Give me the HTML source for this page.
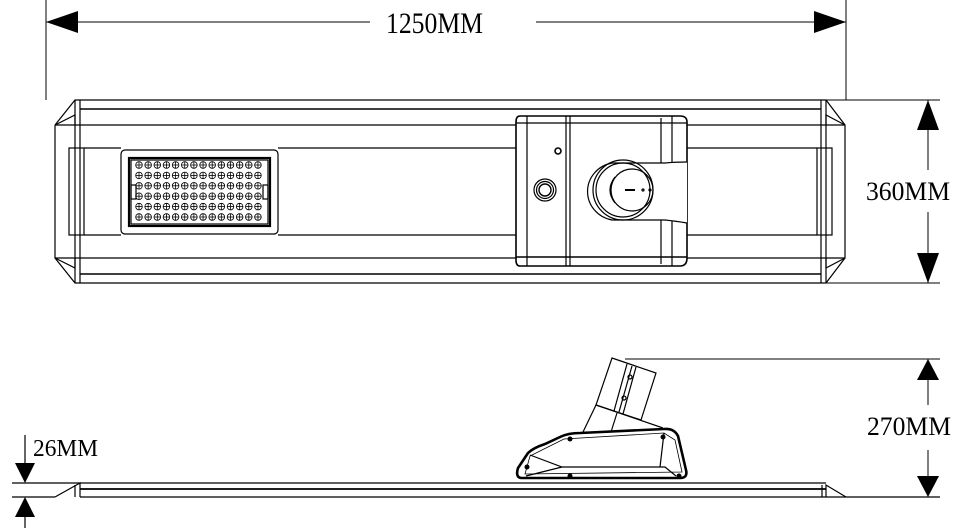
<!DOCTYPE html>
<html><head><meta charset="utf-8"><style>html,body{margin:0;padding:0;background:#fff}svg{display:block}</style></head><body>
<svg width="966" height="532" viewBox="0 0 966 532" xmlns="http://www.w3.org/2000/svg" font-family="Liberation Serif, serif">
<g stroke="#000" fill="none" stroke-width="1">
<!-- top dimension -->
<line x1="46" y1="0" x2="46" y2="100"/><line x1="846" y1="0" x2="846" y2="100"/>
<line x1="46" y1="22" x2="370" y2="22"/><line x1="536" y1="22" x2="846" y2="22"/>
</g>
<polygon points="46,22 78,11 78,33" fill="#000"/>
<polygon points="846,22 814,11 814,33" fill="#000"/>
<text x="386" y="33" font-size="30" textLength="97" lengthAdjust="spacingAndGlyphs">1250MM</text>

<!-- top view body -->
<g stroke="#000" fill="none" stroke-width="1.2">
<polyline points="55,125 75,100 826,100 845,125 845,258 826,283 75,283 55,258 55,125"/>
<line x1="75" y1="100" x2="75" y2="283"/><line x1="80" y1="100" x2="80" y2="283"/>
<line x1="821" y1="100" x2="821" y2="283"/><line x1="826" y1="100" x2="826" y2="283"/>
<line x1="80" y1="109" x2="821" y2="109" stroke-width="1.6"/>
<line x1="55" y1="125" x2="516" y2="125"/><line x1="687" y1="125" x2="845" y2="125"/>
<line x1="55" y1="258" x2="516" y2="258"/><line x1="687" y1="258" x2="845" y2="258"/>
<line x1="80" y1="274" x2="821" y2="274" stroke-width="1.6"/>
<polyline points="55,125 75,115 75,125"/><polyline points="55,258 75,268 75,258"/>
<polyline points="845,125 826,115 826,125"/><polyline points="845,258 826,268 826,258"/>
<rect x="69" y="148" width="15" height="87"/>
<rect x="817" y="148" width="15" height="87"/>
<line x1="84" y1="148" x2="121" y2="148"/><line x1="84" y1="235" x2="121" y2="235"/>
<line x1="278" y1="148" x2="516" y2="148"/><line x1="278" y1="235" x2="516" y2="235"/>
<line x1="687" y1="148" x2="817" y2="148"/><line x1="687" y1="235" x2="817" y2="235"/>
<!-- LED panel -->
<rect x="121" y="150" width="157" height="84" rx="4" fill="#fff"/>
<rect x="129" y="158" width="141" height="68" stroke-width="2.2"/>
<rect x="131" y="160" width="137" height="64"/>
<rect x="131" y="185" width="5" height="14"/><rect x="263" y="185" width="5" height="14"/>
</g>
<g id="dots" stroke="#000" fill="none" stroke-width="0.8"></g>

<!-- module -->
<g stroke="#000" fill="none" stroke-width="1.2">
<path d="M520,116 L680,116 Q687,116 687,122 L687,258 Q687,266 680,266 L520,266 Q516,266 516,260 L516,122 Q516,116 520,116Z" fill="#fff" stroke-width="1.6"/>
<line x1="516" y1="123" x2="687" y2="123"/><line x1="516" y1="257" x2="687" y2="257" stroke-width="1.6"/>
<line x1="527" y1="116" x2="527" y2="266"/><line x1="566" y1="116" x2="566" y2="266"/><line x1="570" y1="116" x2="570" y2="266"/>
<line x1="661" y1="118" x2="661" y2="264"/><line x1="672" y1="116" x2="672" y2="266"/>
<circle cx="558" cy="151" r="3" stroke-width="1.6"/>
<circle cx="545" cy="190" r="11"/><circle cx="545" cy="190" r="8.5"/><circle cx="545" cy="190" r="6" stroke-width="1.4"/>
<path d="M687,162 Q675,162 665,163 L612,163 A30,29 0 0 0 612,220 L665,220 Q675,221 687,223" fill="#fff"/>
<circle cx="623" cy="190" r="30"/><circle cx="623" cy="190" r="27"/>
<circle cx="632" cy="190" r="21"/>
<path d="M615,177 Q605,190 615,203"/>
<line x1="625" y1="190" x2="635" y2="190" stroke-width="2"/>
<circle cx="643" cy="190" r="1"/><circle cx="650" cy="190" r="1"/>
</g>

<!-- 360 dimension -->
<g stroke="#000" stroke-width="1" fill="none">
<line x1="826" y1="100" x2="940" y2="100"/><line x1="826" y1="283" x2="940" y2="283"/>
<line x1="928" y1="100" x2="928" y2="170"/><line x1="928" y1="212" x2="928" y2="283"/>
</g>
<polygon points="928,100 917,130 939,130" fill="#000"/>
<polygon points="928,283 917,253 939,253" fill="#000"/>
<text x="866" y="200" font-size="26" textLength="84" lengthAdjust="spacingAndGlyphs">360MM</text>

<!-- side view plate -->
<g stroke="#000" fill="none" stroke-width="1.2">
<line x1="80" y1="483" x2="826" y2="483"/>
<line x1="80" y1="489" x2="826" y2="489" stroke-width="1.8"/>
<line x1="80" y1="497" x2="940" y2="497"/>
<polyline points="55,497 80,483 80,497"/><line x1="75" y1="485" x2="75" y2="497"/>
<polyline points="846,497 826,485 826,497"/><line x1="822" y1="485" x2="822" y2="497"/>
<line x1="12" y1="483" x2="80" y2="483"/><line x1="12" y1="497" x2="55" y2="497"/>
<line x1="25" y1="435" x2="25" y2="465"/><line x1="25" y1="515" x2="25" y2="528"/>
</g>
<polygon points="25,483 15,463 35,463" fill="#000"/>
<polygon points="25,497 15,517 35,517" fill="#000"/>
<text x="33" y="456" font-size="24" textLength="65" lengthAdjust="spacingAndGlyphs">26MM</text>

<!-- head -->
<g stroke="#000" fill="none" stroke-width="1.2">
<polygon points="612,358 656,373 641,420 596,405" fill="#fff"/>
<line x1="627" y1="364" x2="614" y2="411"/><line x1="632" y1="366" x2="619" y2="412"/><line x1="636" y1="367" x2="623" y2="414"/>
<circle cx="630" cy="377" r="2"/><circle cx="624" cy="398" r="2"/>
<polyline points="596,405 583,432"/><line x1="617" y1="413" x2="611" y2="432"/>
<polyline points="596,405 663,428"/>
<path d="M522,478 Q515,478 518,468 L528,453 Q533,448 545,444 L560,437 Q568,433 580,433 L664,429 Q674,428 678,436 L686,470 Q688,478 680,478 Z" fill="#fff" stroke-width="2.6"/>
<path d="M525,474 L530,456 L548,447 L564,439 L664,433 L675,440 L682,472 Z" stroke-width="0.8"/>
<polyline points="530,455 562,467 665,467 676,476"/><polyline points="526,476 562,467"/>
<line x1="664" y1="433" x2="660" y2="467"/>
</g>
<g fill="#000"><circle cx="570" cy="439" r="2.5"/><circle cx="663" cy="437" r="2.5"/><circle cx="527" cy="467" r="2.5"/><circle cx="570" cy="476" r="2.5"/><circle cx="679" cy="476" r="2.5"/></g>

<!-- 270 dimension -->
<g stroke="#000" stroke-width="1" fill="none">
<line x1="625" y1="359" x2="940" y2="359"/>
<line x1="928" y1="359" x2="928" y2="405"/><line x1="928" y1="450" x2="928" y2="497"/>
</g>
<polygon points="928,359 917,380 939,380" fill="#000"/>
<polygon points="928,497 917,476 939,476" fill="#000"/>
<text x="867" y="435" font-size="26" textLength="84" lengthAdjust="spacingAndGlyphs">270MM</text>
</svg>
<script>
var g=document.getElementById('dots'),s='';
for(var r=0;r<6;r++)for(var c=0;c<14;c++){var x=139+c*9.15,y=165+r*10.4;
s+='<circle cx="'+x+'" cy="'+y+'" r="3.3"/><line x1="'+(x-3.3)+'" y1="'+y+'" x2="'+(x+3.3)+'" y2="'+y+'"/><line x1="'+x+'" y1="'+(y-3.3)+'" x2="'+x+'" y2="'+(y+3.3)+'"/>';}
g.innerHTML=s;
</script>
</body></html>
